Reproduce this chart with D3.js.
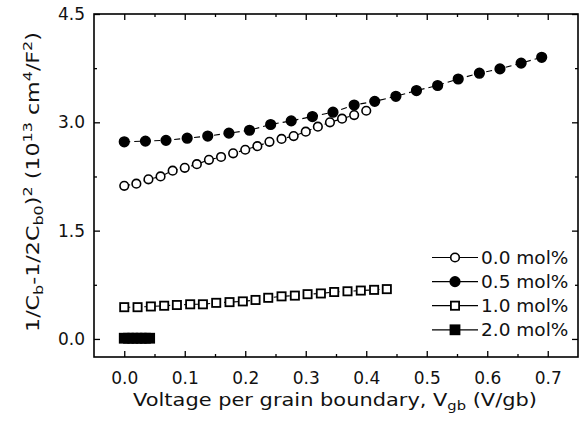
<!DOCTYPE html>
<html lang="en">
<head>
  <meta charset="utf-8">
  <title>Mott-Schottky plot</title>
  <script src="https://cdn.jsdelivr.net/npm/d3@7"></script>
  <style>
    body { margin: 0; background: #fff; }
    svg text { font-family: "DejaVu Sans", sans-serif; fill: #111; }
  </style>
</head>
<body>
  <svg id="chart" width="587" height="426"></svg>
  <script>
    // data (V per grain boundary, 1e13 cm^4/F^2)
    var volt00 = [0.00, 0.02, 0.04, 0.06, 0.08, 0.10, 0.12, 0.14, 0.16, 0.18, 0.20,
                  0.22, 0.24, 0.26, 0.28, 0.30, 0.32, 0.34, 0.36, 0.38, 0.40];
    var val00 = [2.12, 2.15, 2.21, 2.25, 2.33, 2.37, 2.42, 2.48, 2.52, 2.57, 2.62,
                 2.67, 2.73, 2.77, 2.81, 2.87, 2.94, 3.00, 3.05, 3.10, 3.16];

    var volt05 = [0.000, 0.035, 0.069, 0.104, 0.138, 0.173, 0.207, 0.242, 0.276, 0.311, 0.345,
                  0.380, 0.414, 0.449, 0.483, 0.518, 0.552, 0.587, 0.621, 0.656, 0.690];
    var val05 = [2.73, 2.74, 2.75, 2.78, 2.81, 2.85, 2.89, 2.97, 3.02, 3.08, 3.14,
                 3.24, 3.29, 3.36, 3.44, 3.51, 3.60, 3.68, 3.74, 3.82, 3.90];

    var volt10 = [0.000, 0.022, 0.044, 0.066, 0.087, 0.109, 0.130, 0.152, 0.174, 0.196, 0.217,
                  0.238, 0.260, 0.282, 0.303, 0.325, 0.347, 0.369, 0.391, 0.413, 0.434];
    var val10 = [0.44, 0.44, 0.45, 0.46, 0.47, 0.48, 0.48, 0.50, 0.51, 0.52, 0.54,
                 0.57, 0.59, 0.60, 0.62, 0.63, 0.65, 0.66, 0.67, 0.68, 0.69];

    var volt20 = [0.000, 0.007, 0.014, 0.021, 0.028, 0.035, 0.042];
    var val20 = [0.01, 0.01, 0.01, 0.01, 0.01, 0.01, 0.01];

    var legendLabels = ["0.0 mol%", "0.5 mol%", "1.0 mol%", "2.0 mol%"];
    var xTicks = [0.0, 0.1, 0.2, 0.3, 0.4, 0.5, 0.6, 0.7];
    var xMinor = [0.05, 0.15, 0.25, 0.35, 0.45, 0.55, 0.65];
    var yTicks = [0.0, 1.5, 3.0, 4.5];
    var yMinor = [0.75, 2.25, 3.75];

    // plot frame (window.top is reserved, hence the prefix)
    var pLeft = 94, pRight = 578, pTop = 14, pBottom = 357;

    var svg = d3.select('#chart');

    var x = d3.scaleLinear().domain([-0.05, 0.75]).range([pLeft, pRight]);
    var y = d3.scaleLinear().domain([-0.25, 4.5]).range([pBottom, pTop]);
    var fmt = d3.format('.1f');

    function styleAxis(g) {
      g.select('.domain').remove();
      g.selectAll('.tick line').attr('stroke', '#000').attr('stroke-width', 1.3);
    }

    // major / minor ticks on all four sides, pointing inward
    svg.append('g').attr('transform', `translate(0,${pBottom})`)
      .call(d3.axisBottom(x).tickValues(xTicks).tickSize(-6).tickPadding(15).tickFormat(fmt))
      .call(styleAxis)
      .selectAll('text').style('font-size', '17px').style('font-family', '"DejaVu Sans", sans-serif');
    svg.append('g').attr('transform', `translate(0,${pBottom})`)
      .call(d3.axisBottom(x).tickValues(xMinor).tickSize(-3).tickFormat(''))
      .call(styleAxis);
    svg.append('g').attr('transform', `translate(0,${pTop})`)
      .call(d3.axisTop(x).tickValues(xTicks).tickSize(-6).tickFormat(''))
      .call(styleAxis);
    svg.append('g').attr('transform', `translate(0,${pTop})`)
      .call(d3.axisTop(x).tickValues(xMinor).tickSize(-3).tickFormat(''))
      .call(styleAxis);

    svg.append('g').attr('transform', `translate(${pLeft},0)`)
      .call(d3.axisLeft(y).tickValues(yTicks).tickSize(-6).tickPadding(9).tickFormat(fmt))
      .call(styleAxis)
      .selectAll('text').style('font-size', '17px').style('font-family', '"DejaVu Sans", sans-serif');
    svg.append('g').attr('transform', `translate(${pLeft},0)`)
      .call(d3.axisLeft(y).tickValues(yMinor).tickSize(-3).tickFormat(''))
      .call(styleAxis);
    svg.append('g').attr('transform', `translate(${pRight},0)`)
      .call(d3.axisRight(y).tickValues(yTicks).tickSize(-6).tickFormat(''))
      .call(styleAxis);
    svg.append('g').attr('transform', `translate(${pRight},0)`)
      .call(d3.axisRight(y).tickValues(yMinor).tickSize(-3).tickFormat(''))
      .call(styleAxis);

    // frame
    svg.append('rect')
      .attr('x', pLeft).attr('y', pTop)
      .attr('width', pRight - pLeft).attr('height', pBottom - pTop)
      .attr('fill', 'none').attr('stroke', '#000').attr('stroke-width', 1.6);

    var series = [
      { xs: volt00, ys: val00, shape: 'circle', fill: '#fff' },
      { xs: volt05, ys: val05, shape: 'circle', fill: '#000' },
      { xs: volt10, ys: val10, shape: 'square', fill: '#fff' },
      { xs: volt20, ys: val20, shape: 'square', fill: '#000' }
    ];

    var line = d3.line().x(d => x(d[0])).y(d => y(d[1]));

    function drawMarker(g, shape, fill, cx, cy) {
      if (shape === 'circle') {
        g.append('circle').attr('cx', cx).attr('cy', cy)
          .attr('r', fill === '#000' ? 4.8 : 4.3)
          .attr('fill', fill).attr('stroke', '#000').attr('stroke-width', 1.6);
      } else {
        var s = fill === '#000' ? 9 : 8.2;
        g.append('rect').attr('x', cx - s / 2).attr('y', cy - s / 2)
          .attr('width', s).attr('height', s)
          .attr('fill', fill).attr('stroke', '#000').attr('stroke-width', 1.8);
      }
    }

    series.forEach(function (s) {
      var pts = s.xs.map((v, i) => [v, s.ys[i]]);
      svg.append('path')
        .attr('d', line(pts))
        .attr('fill', 'none').attr('stroke', '#000')
        .attr('stroke-width', 1.1).attr('stroke-dasharray', '6,4');
      var g = svg.append('g');
      pts.forEach(p => drawMarker(g, s.shape, s.fill, x(p[0]), y(p[1])));
    });

    // legend
    var leg = svg.append('g');
    legendLabels.forEach(function (lab, i) {
      var ly = 257.5 + i * 24.1;
      leg.append('line').attr('x1', 432).attr('x2', 478).attr('y1', ly).attr('y2', ly)
        .attr('stroke', '#000').attr('stroke-width', 1.2);
      drawMarker(leg, series[i].shape, series[i].fill, 455, ly);
      leg.append('text').attr('x', 481).attr('y', ly).attr('dy', '0.36em')
        .style('font-size', '18.5px').text(lab);
    });

    // fit a title to a measured width by stretching it horizontally
    function fit(t, w, base) {
      var bw = t.node().getBBox().width;
      t.attr('transform', base + ` scale(${w / bw},1)`);
    }

    // x title
    var xt = svg.append('text').attr('text-anchor', 'middle').style('font-size', '18.5px');
    xt.append('tspan').text('Voltage per grain boundary, V');
    xt.append('tspan').attr('dy', 4).style('font-size', '13px').text('gb');
    xt.append('tspan').attr('dy', -4).text(' (V/gb)');
    fit(xt, 404, 'translate(335,406)');

    // y title
    var yt = svg.append('text').attr('text-anchor', 'middle').style('font-size', '18px');
    yt.append('tspan').text('1/C');
    yt.append('tspan').attr('dy', 4).style('font-size', '13px').text('b');
    yt.append('tspan').attr('dy', -4).text('-1/2C');
    yt.append('tspan').attr('dy', 4).style('font-size', '13px').text('b0');
    yt.append('tspan').attr('dy', -4).text(')');
    yt.append('tspan').attr('dy', -7).style('font-size', '13px').text('2');
    yt.append('tspan').attr('dy', 7).text(' (10');
    yt.append('tspan').attr('dy', -7).style('font-size', '13px').text('13');
    yt.append('tspan').attr('dy', 7).text(' cm');
    yt.append('tspan').attr('dy', -7).style('font-size', '13px').text('4');
    yt.append('tspan').attr('dy', 7).text('/F');
    yt.append('tspan').attr('dy', -7).style('font-size', '13px').text('2');
    yt.append('tspan').attr('dy', 7).text(')');
    fit(yt, 300, 'translate(39,182) rotate(-90)');
  </script>
</body>
</html>
